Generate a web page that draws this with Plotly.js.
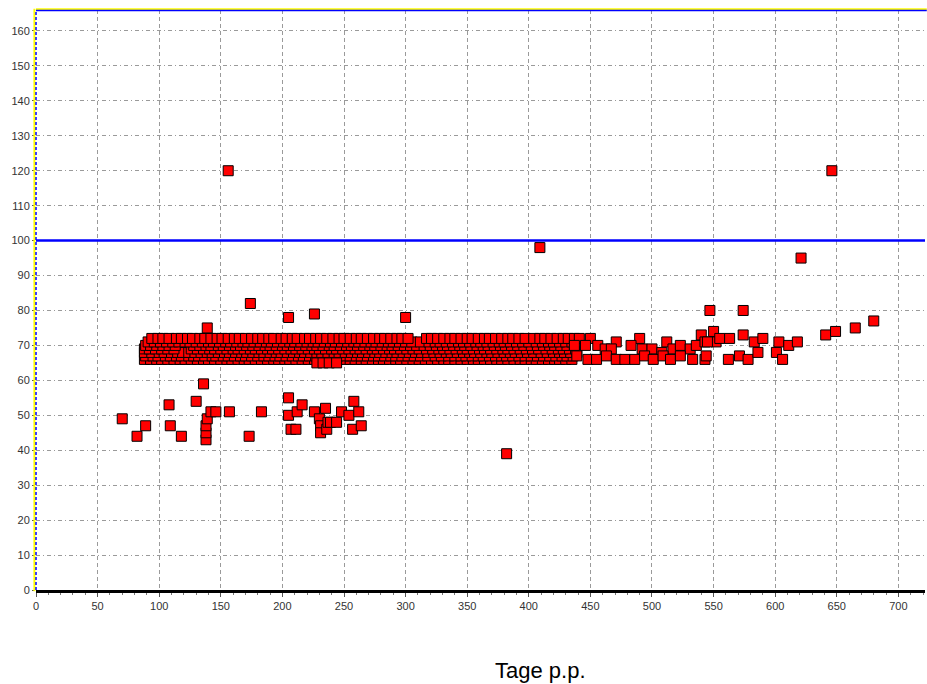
<!DOCTYPE html>
<html>
<head>
<meta charset="utf-8">
<script src="https://cdn.plot.ly/plotly-3.0.1.min.js"></script>
<style>
html,body{margin:0;padding:0;background:#fff;}
#chart{width:927px;height:684px;}
</style>
</head>
<body>
<div id="chart"></div>
<script>
var level72 = [94,99,103,108,114,118,123,127,133,137,142,147,151,156,161,165,170,175,180,184,189,193,199,203,208,212,218,222,227,231,236,241,246,250,255,260,264,269,274,279,283,288,293,297,302,317,321,326,331,336,340,345,350,354,359,364,368,373,378,383,387,392,397,404,409,413,418,423,428,432,437];
var level71 = [91,96,101,106,111,116,121,125,130,135,140,144,149,154,158,163,168,172,177,182,187,191,196,201,206,210,215,220,225,229,234,239,243,248,253,258,262,267,272,276,281,286,290,295,300,305,312,319,324,328,333,338,343,347,352,357,361,366,371,376,380,385,390,395,400,406,411,416,420,425,430,435,440];
var level70 = [89,93,98,103,108,113,128,133,138,142,148,152,157,162,166,171,176,181,186,190,195,200,204,209,214,219,224,228,233,238,242,247,252,256,261,266,271,275,280,285,289,294,299,304,309,315,320,325,330,334,339,344,348,353,358,363,367,372,377,381,386,391,396,402,407,412,417,421,426,431,437];
var level69 = [88,92,97,102,107,112,126,131,136,141,145,150,155,160,164,169,174,178,183,188,192,197,202,207,211,216,221,226,230,235,240,244,249,254,259,263,268,273,277,282,287,291,296,301,306,311,317,322,327,331,336,341,346,350,355,360,364,369,374,379,383,388,393,398,403,408,414,419,424,428,433,438];
var level68 = [88,94,100,104,110,115,119,124,129,134,139,143,148,153,157,162,167,171,176,181,185,190,195,199,204,209,214,218,223,228,232,237,242,246,251,256,261,265,270,275,279,284,289,293,298,303,308,313,318,323,328,333,337,342,347,352,356,361,366,370,375,380,385,389,394,399,404,410,415,420,425,429,434,439];
var level67 = [89,95,99,105,109,114,118,124,128,132,137,143,146,152,156,161,166,170,175,180,185,189,194,198,203,208,213,217,222,227,231,236,241,245,250,255,260,264,269,274,278,283,288,292,297,302,307,312,318,324,329,335,340,345,349,354,359,363,368,373,378,382,387,392,397,402,407,412,417,422,427,431,436];
var level66 = [88,93,98,102,107,112,117,121,126,131,136,140,145,150,155,159,164,169,173,178,183,188,193,197,202,206,211,216,221,226,231,236,240,245,250,255,259,264,268,273,278,282,287,292,296,301,306,311,316,321,326,331,335,340,345,350,355,359,364,369,374,378,383,388,393,397,402,406,411,416,421,425,430,435];
var level65 = [228,233,238,244];

// Individual points (day, value)
var otherDays = [
  441,450,471,490,512,540,550,
  437,446,456,462,467,483,492,500,508,517,523,531,536,543,552,
  439,448,455,463,471,478,486,494,501,509,515,523,533,543,
  545,544,555,563,562,571,574,578,583,586,590,601,603,606,611,618,
  641,649,665,680,
  156,646,409,621,174,205,226,300,139,547,574,136,
  70,82,89,108,109,118,130,138,138,138,139,142,146,157,173,183,
  205,205,207,211,212,216,226,230,231,231,235,236,237,239,244,248,254,258,257,262,264,382
];
var otherValues = [
  72,72,71,72,71,73,74,
  70,70,70,69,69,70,69,69,68,69,70,69,70,71,71,
  67,66,66,67,66,66,66,67,66,67,66,67,66,66,
  71,67,72,72,66,67,73,66,71,68,72,68,71,66,70,71,
  73,74,75,77,
  120,120,98,95,82,78,79,78,75,80,80,59,
  49,44,47,53,47,44,54,43,45,47,49,51,51,51,44,51,
  55,50,46,46,51,53,51,49,47,45,52,46,48,48,48,51,50,54,46,51,47,39
];

var xTickVals = [0,50,100,150,200,250,300,350,400,450,500,550,600,650,700];
var yTickVals = [0,10,20,30,40,50,60,70,80,90,100,110,120,130,140,150,160];
var limitValue = 100;

var xs = [], ys = [];
function addLevel(arr, v){ arr.forEach(function(d){ xs.push(d); ys.push(v); }); }
addLevel(level66,66); addLevel(level67,67); addLevel(level68,68); addLevel(level69,69);
addLevel(level70,70); addLevel(level71,71); addLevel(level72,72); addLevel(level65,65);
otherDays.forEach(function(d,i){ xs.push(d); ys.push(otherValues[i]); });

var trace = {
  type:'scatter', mode:'markers', x:xs, y:ys,
  marker:{symbol:'square', size:10, color:'#ff0000', line:{color:'#000000', width:1}},
  hoverinfo:'x+y', cliponaxis:false
};

var tickFont = {family:'Arial, "Liberation Sans", sans-serif', size:11, color:'#333333'};
var layout = {
  width:927, height:684,
  margin:{l:36, r:2, t:10, b:94, pad:0},
  paper_bgcolor:'#ffffff', plot_bgcolor:'#ffffff',
  showlegend:false,
  xaxis:{range:[0,721.6], tickmode:'array', tickvals:xTickVals, ticktext:xTickVals.map(String),
    showgrid:true, gridcolor:'#9a9a9a', gridwidth:1, griddash:'4px,3px',
    zeroline:false, showline:true, linecolor:'#000000', linewidth:3,
    ticks:'outside', ticklen:4, tickcolor:'#555555', tickfont:tickFont,
    minor:{dtick:10, tick0:0, ticks:'outside', ticklen:2, tickcolor:'#777777', showgrid:false},
    fixedrange:true},
  yaxis:{range:[0,166], tickmode:'array', tickvals:yTickVals, ticktext:yTickVals.map(String),
    showgrid:true, gridcolor:'#9a9a9a', gridwidth:1, griddash:'4px,3px,1px,3px',
    zeroline:false, showline:false,
    ticks:'outside', ticklen:3, tickcolor:'#555555', tickfont:tickFont,
    fixedrange:true},
  shapes:[
    {type:'line', xref:'paper', yref:'y', x0:0, x1:1, y0:limitValue, y1:limitValue, line:{color:'#0000ff', width:2.5}, layer:'above'},
    {type:'line', xref:'paper', yref:'paper', x0:0, x1:1.002, y0:1.0015, y1:1.0015, line:{color:'#ffff00', width:2}, layer:'above'},
    {type:'line', xref:'paper', yref:'paper', x0:0, x1:1.002, y0:0.999, y1:0.999, line:{color:'#0000ff', width:1.5}, layer:'above'},
    {type:'line', xref:'paper', yref:'paper', x0:-0.0018, x1:-0.0018, y0:-0.002, y1:1.002, line:{color:'#ffff00', width:2}, layer:'above'},
    {type:'line', xref:'paper', yref:'paper', x0:0, x1:0, y0:0, y1:1, line:{color:'#0000ff', width:1.5, dash:'3px,2px'}, layer:'above'}
  ],
  annotations:[
    {text:'Tage p.p.', xref:'paper', yref:'paper', x:0.567, y:-0.138, xanchor:'center', yanchor:'middle',
     showarrow:false, font:{family:'Arial, "Liberation Sans", sans-serif', size:22, color:'#000000'}}
  ]
};

Plotly.newPlot('chart', [trace], layout, {displayModeBar:false, staticPlot:true});
</script>
</body>
</html>
